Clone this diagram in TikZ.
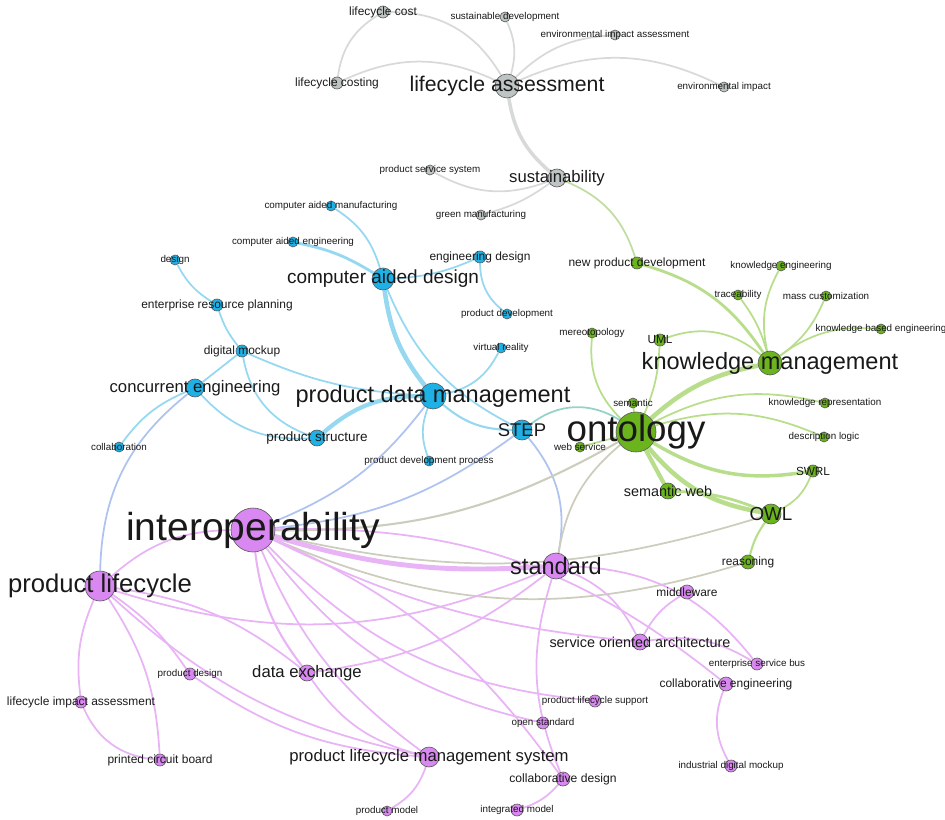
\documentclass[tikz,border=0pt]{standalone}
\usepackage{fontspec}
\setmainfont{Liberation Sans}
\usetikzlibrary{backgrounds}
\definecolor{lcagrey}{RGB}{190, 196, 195}
\definecolor{cadblue}{RGB}{29, 177, 230}
\definecolor{ontgreen}{RGB}{108, 180, 30}
\definecolor{intpurple}{RGB}{216, 136, 240}
\definecolor{gedge}{RGB}{216, 218, 218}
\definecolor{bedge}{RGB}{150, 216, 240}
\definecolor{gnedge}{RGB}{184, 222, 140}
\definecolor{pedge}{RGB}{232, 180, 245}
\definecolor{oedge}{RGB}{205, 205, 190}
\definecolor{ledge}{RGB}{175, 195, 240}
\definecolor{tedge}{RGB}{150, 210, 200}

\begin{document}
\begin{tikzpicture}[x=0.02cm, y=0.02cm,
        kw/.style={circle, draw=black!65, line width=0.35pt, inner sep=0pt, minimum size=#1*0.04cm},
        gry/.style={kw=#1, fill=lcagrey},
        blu/.style={kw=#1, fill=cadblue},
        grn/.style={kw=#1, fill=ontgreen},
        pur/.style={kw=#1, fill=intpurple},
        lbl/.style={font=\fontsize{#1}{#1}\selectfont, text=black!90, inner sep=0pt}
    ]
    \useasboundingbox (0,0) rectangle (945,-820);

    % sustainability cluster
    \node[gry=6, label={[lbl=6.8]center:lifecycle cost}] (lcost) at (383,-12) {};
    \node[gry=5, label={[lbl=5.6]center:sustainable development}] (susdev) at (505,-17) {};
    \node[gry=5, label={[lbl=5.6]center:environmental impact assessment}] (eia) at (615,-35) {};
    \node[gry=6, label={[lbl=6.8]center:lifecycle costing}] (lcosting) at (337,-83) {};
    \node[gry=12, label={[lbl=12.1]center:lifecycle assessment}] (lca) at (507,-86) {};
    \node[gry=5, label={[lbl=5.6]center:environmental impact}] (envimp) at (724,-87) {};
    \node[gry=5, label={[lbl=5.6]center:product service system}] (pss) at (430,-170) {};
    \node[gry=9, label={[lbl=9.5]center:sustainability}] (sust) at (557,-178) {};
    \node[gry=5, label={[lbl=5.6]center:green manufacturing}] (greenm) at (481,-215) {};

    % design / pdm cluster
    \node[blu=5, label={[lbl=5.6]center:computer aided manufacturing}] (cam) at (331,-206) {};
    \node[blu=5, label={[lbl=5.6]center:computer aided engineering}] (cae) at (293,-242) {};
    \node[blu=5, label={[lbl=5.6]center:design}] (design) at (175,-260) {};
    \node[blu=6, label={[lbl=6.8]center:engineering design}] (engd) at (480,-257) {};
    \node[blu=11, label={[lbl=10.8]center:computer aided design}] (cad) at (383,-279) {};
    \node[blu=6, label={[lbl=6.8]center:enterprise resource planning}] (erp) at (217,-305) {};
    \node[blu=5, label={[lbl=5.6]center:product development}] (proddev) at (507,-314) {};
    \node[blu=5, label={[lbl=5.6]center:virtual reality}] (vr) at (501,-348) {};
    \node[blu=6, label={[lbl=6.8]center:digital mockup}] (dmock) at (242,-351) {};
    \node[blu=9, label={[lbl=9.5]center:concurrent engineering}] (conc) at (195,-388) {};
    \node[blu=13, label={[lbl=13.4]center:product data management}] (pdm) at (433,-396) {};
    \node[blu=10, label={[lbl=10.5]center:STEP}] (step) at (522,-430) {};
    \node[blu=8, label={[lbl=7.7]center:product structure}] (pstruct) at (317,-438) {};
    \node[blu=5, label={[lbl=5.6]center:collaboration}] (collab) at (119,-447) {};
    \node[blu=5, label={[lbl=5.6]center:product development process}] (pdp) at (429,-461) {};

    % ontology cluster
    \node[grn=6, label={[lbl=6.8]center:new product development}] (npd) at (637,-263) {};
    \node[grn=5, label={[lbl=5.6]center:knowledge engineering}] (keng) at (781,-266) {};
    \node[grn=5, label={[lbl=5.6]center:traceability}] (trace) at (738,-295) {};
    \node[grn=5, label={[lbl=5.6]center:mass customization}] (masscust) at (826,-296) {};
    \node[grn=5, label={[lbl=5.6]center:mereotopology}] (mereo) at (592,-333) {};
    \node[grn=6, label={[lbl=6.7]center:UML}] (uml) at (660,-340) {};
    \node[grn=5, label={[lbl=5.6]center:knowledge based engineering}] (kbe) at (881,-329) {};
    \node[grn=12, label={[lbl=13.4]center:knowledge management}] (km) at (770,-363) {};
    \node[grn=5, label={[lbl=5.6]center:semantic}] (sem) at (633,-403) {};
    \node[grn=5, label={[lbl=5.6]center:knowledge representation}] (krep) at (825,-403) {};
    \node[grn=20, label={[lbl=20.9]center:ontology}] (ont) at (636,-432) {};
    \node[grn=5, label={[lbl=5.6]center:description logic}] (dlogic) at (824,-437) {};
    \node[grn=5, label={[lbl=5.6]center:web service}] (websvc) at (580,-447) {};
    \node[grn=6, label={[lbl=6.7]center:SWRL}] (swrl) at (813,-471) {};
    \node[grn=8, label={[lbl=8.2]center:semantic web}] (semweb) at (668,-491) {};
    \node[grn=10, label={[lbl=10.7]center:OWL}] (owl) at (771,-514) {};
    \node[grn=7, label={[lbl=6.8]center:reasoning}] (reason) at (748,-562) {};

    % interoperability cluster
    \node[pur=22, label={[lbl=22.2]center:interoperability}] (interop) at (253,-530) {};
    \node[pur=15, label={[lbl=14.6]center:product lifecycle}] (pl) at (100,-586) {};
    \node[pur=13, label={[lbl=13.4]center:standard}] (std) at (556,-566) {};
    \node[pur=7, label={[lbl=6.8]center:middleware}] (mw) at (687,-592) {};
    \node[pur=8, label={[lbl=8.2]center:service oriented architecture}] (soa) at (640,-642) {};
    \node[pur=6, label={[lbl=5.6]center:enterprise service bus}] (esb) at (757,-664) {};
    \node[pur=7, label={[lbl=6.8]center:collaborative engineering}] (colleng) at (726,-684) {};
    \node[pur=6, label={[lbl=5.6]center:product design}] (pdes) at (190,-674) {};
    \node[pur=8, label={[lbl=9.5]center:data exchange}] (dx) at (307,-673) {};
    \node[pur=6, label={[lbl=6.8]center:lifecycle impact assessment}] (lia) at (81,-702) {};
    \node[pur=6, label={[lbl=5.6]center:product lifecycle support}] (pls) at (595,-701) {};
    \node[pur=6, label={[lbl=5.6]center:open standard}] (os) at (543,-723) {};
    \node[pur=6, label={[lbl=6.8]center:printed circuit board}] (pcb) at (160,-760) {};
    \node[pur=10, label={[lbl=9.5]center:product lifecycle management system}] (plms) at (429,-757) {};
    \node[pur=6, label={[lbl=5.6]center:industrial digital mockup}] (idm) at (731,-766) {};
    \node[pur=7, label={[lbl=6.9]center:collaborative design}] (cdes) at (563,-779) {};
    \node[pur=5, label={[lbl=5.6]center:product model}] (pmodel) at (387,-811) {};
    \node[pur=6, label={[lbl=5.6]center:integrated model}] (intmodel) at (517,-810) {};

    \begin{scope}[on background layer]
        % links: from/to/bend/width
        \foreach \a/\b/\c/\w in {lcost/lca/30/1, susdev/lca/20/1, lca/eia/20/1,
                lcosting/lca/25/1, lca/envimp/25/1, lcost/lcosting/-25/1,
                lca/sust/-20/2, pss/sust/-25/1, sust/greenm/10/1}
            \draw[gedge, line width=\w pt] (\a) to[bend left=\c] (\b);
        \foreach \a/\b/\c/\w in {cam/cad/20/1, cae/cad/10/1.6, cad/engd/-10/1,
                engd/proddev/-25/1, cad/pdm/-15/2.6, cad/step/-20/1,
                design/erp/-15/1, erp/dmock/-10/1, dmock/conc/0/1,
                dmock/pstruct/-30/1, dmock/pdm/-10/1, conc/pstruct/-25/1,
                conc/collab/-15/1, pstruct/pdm/20/2.4, pdm/step/-20/1.2,
                pdm/vr/-25/1, pdm/pdp/-20/1}
            \draw[bedge, line width=\w pt] (\a) to[bend left=\c] (\b);
        \foreach \a/\b/\c/\w in {pdm/interop/15/1, step/interop/15/1,
                step/std/25/1, conc/pl/-25/1}
            \draw[ledge, line width=\w pt] (\a) to[bend left=\c] (\b);
        \draw[tedge, line width=1pt] (step) to[bend left=35] (ont);
        \draw[gnedge!70!gedge, line width=1pt] (sust) to[bend left=25] (npd);
        \foreach \a/\b/\c/\w in {ont/km/15/2.6, ont/uml/-10/1, mereo/ont/-25/1,
                ont/sem/0/1, ont/krep/20/1, ont/dlogic/20/1, ont/swrl/-20/2,
                ont/semweb/0/2.4, ont/owl/-20/2.6, ont/websvc/0/1,
                semweb/owl/10/1.6, owl/swrl/-20/1, owl/reason/-10/1.2,
                npd/km/20/1.6, trace/km/10/1, keng/km/-20/1,
                masscust/km/15/1, km/kbe/20/1, uml/km/30/1}
            \draw[gnedge, line width=\w pt] (\a) to[bend left=\c] (\b);
        \foreach \a/\b/\c/\w in {interop/ont/-15/1.2, interop/owl/-15/1,
                interop/reason/-20/1, std/ont/20/1}
            \draw[oedge, line width=\w pt] (\a) to[bend left=\c] (\b);
        \foreach \a/\b/\c/\w in {pl/interop/20/1, interop/std/-10/2.8,
                interop/dx/-15/1.2, interop/plms/-15/1, interop/soa/-10/1,
                interop/colleng/20/1, interop/pls/-20/1, interop/os/-20/1,
                interop/cdes/15/1, pl/pdes/10/1, pl/lia/-15/1, pl/pcb/15/1,
                lia/pcb/-30/1, pl/dx/15/1, pl/std/-20/1, pl/plms/-15/1,
                dx/std/-15/1, dx/plms/-20/1, std/soa/20/1, std/cdes/-20/1,
                std/esb/25/1, soa/mw/15/1, soa/esb/20/1, colleng/idm/-25/1,
                plms/pmodel/20/1, cdes/intmodel/15/1, pdes/plms/-15/1}
            \draw[pedge, line width=\w pt] (\a) to[bend left=\c] (\b);
    \end{scope}
\end{tikzpicture}
\end{document}
